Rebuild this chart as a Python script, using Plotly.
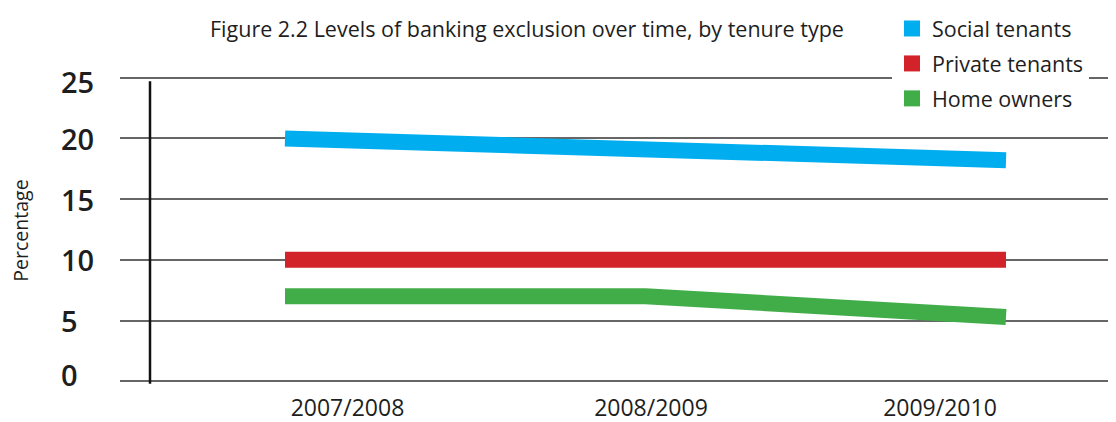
import plotly.graph_objects as go

# ---- data ----
periods = ["2007/2008", "2008/2009", "2009/2010"]
social_tenants = [20.0, 19.0, 18.2]
private_tenants = [10.0, 10.0, 10.0]
home_owners = [7.0, 7.0, 5.3]
series_names = ["Social tenants", "Private tenants", "Home owners"]
y_ticks = [0, 5, 10, 15, 20, 25]
title_text = "Figure 2.2 Levels of banking exclusion over time, by tenure type"
y_title = "Percentage"

colors = ["#00AEEF", "#D2232A", "#41AD49"]
series = [social_tenants, private_tenants, home_owners]

# page body has an 8px margin; work in screen pixels and convert
OFF = 8
SW, SH = 1116, 422
W, H = SW - OFF, SH - OFF
plot_left, plot_right = 120, 1116          # screen px
y_lo, y_hi = -0.3, 25.3
px_per_unit = 12.18
y0_screen = 381.1                          # screen px of value 0
plot_top = y0_screen - y_hi * px_per_unit
plot_bottom = y0_screen - y_lo * px_per_unit

ML = plot_left - OFF
MR = SW - plot_right
MT = plot_top - OFF
MB = SH - plot_bottom
PW = W - ML - MR
PH = H - MT - MB

def px_to_paper_x(px):
    return (px - plot_left) / (plot_right - plot_left)

def px_to_paper_y(py):
    return (plot_bottom - py) / (plot_bottom - plot_top)

fig = go.Figure()
x_idx = list(range(len(periods)))

for name, vals, col in zip(series_names, series, colors):
    fig.add_trace(go.Scatter(
        x=x_idx, y=vals, mode="lines", name=name,
        line=dict(color=col, width=16),
        showlegend=False, hoverinfo="skip",
    ))

# legend entries as squares
for i, (name, col) in enumerate(zip(series_names, colors)):
    fig.add_trace(go.Scatter(
        x=[None], y=[None], mode="markers", name=name,
        marker=dict(symbol="square", size=17, color=col),
        legendgroup="g%d" % i, showlegend=True,
    ))

# x axis positioning: first point at px 285, last at px 1006 (screen)
x0_px, x2_px = 285, 1006
unit = (x2_px - x0_px) / (len(periods) - 1)
xr = [(plot_left - x0_px) / unit, (plot_right - x0_px) / unit]
label_px = [347.5, 651, 940]
tickvals = [(p - x0_px) / unit for p in label_px]

font_family = "Open Sans, Liberation Sans, Arial, sans-serif"
txt = "#1e1e1e"

fig.update_layout(
    width=W, height=H,
    margin=dict(l=ML, r=MR, t=MT, b=MB, pad=0),
    paper_bgcolor="white", plot_bgcolor="white",
    font=dict(family=font_family, color=txt),
    showlegend=True,
    legend=dict(
        x=px_to_paper_x(892), y=px_to_paper_y(7), xanchor="left", yanchor="top",
        bgcolor="white", font=dict(size=21.5, color=txt, family=font_family),
        tracegroupgap=4, itemclick=False,
    ),
    xaxis=dict(
        range=xr, showgrid=False, zeroline=False, showline=False,
        tickvals=tickvals, ticktext=periods, ticks="",
        tickfont=dict(size=23, color=txt, family=font_family),
        ticklabelstandoff=7,
        automargin=False, fixedrange=True,
    ),
    yaxis=dict(
        range=[y_lo, y_hi], tickvals=y_ticks, showticklabels=False,
        showgrid=True, gridcolor="#666666", gridwidth=2,
        zeroline=True, zerolinecolor="#666666", zerolinewidth=2,
        showline=False, ticks="", automargin=False, fixedrange=True,
    ),
)

# y tick labels (left-aligned)
label_shift = {25: -4, 0: 7}
for v in y_ticks:
    fig.add_annotation(
        x=px_to_paper_x(59), xref="paper", y=v, yref="y",
        text=str(v), showarrow=False, xanchor="left", yanchor="middle",
        yshift=label_shift.get(v, 0),
        font=dict(size=29, color=txt, family=font_family, weight=600),
    )

# y axis title
fig.add_annotation(
    x=px_to_paper_x(21), xref="paper", y=px_to_paper_y(230), yref="paper",
    text=y_title, showarrow=False, textangle=-90,
    xanchor="center", yanchor="middle",
    font=dict(size=19.5, color=txt, family=font_family),
)

# title
fig.add_annotation(
    x=px_to_paper_x(527), xref="paper", y=px_to_paper_y(27), yref="paper",
    text=title_text, showarrow=False, xanchor="center", yanchor="middle",
    font=dict(size=21.5, color=txt, family=font_family),
)

# vertical axis line
fig.add_shape(
    type="line", xref="paper", yref="y",
    x0=px_to_paper_x(150), x1=px_to_paper_x(150), y0=-0.2, y1=24.7,
    line=dict(color="#111111", width=2.5), layer="above",
)

fig.write_html("out.html")
